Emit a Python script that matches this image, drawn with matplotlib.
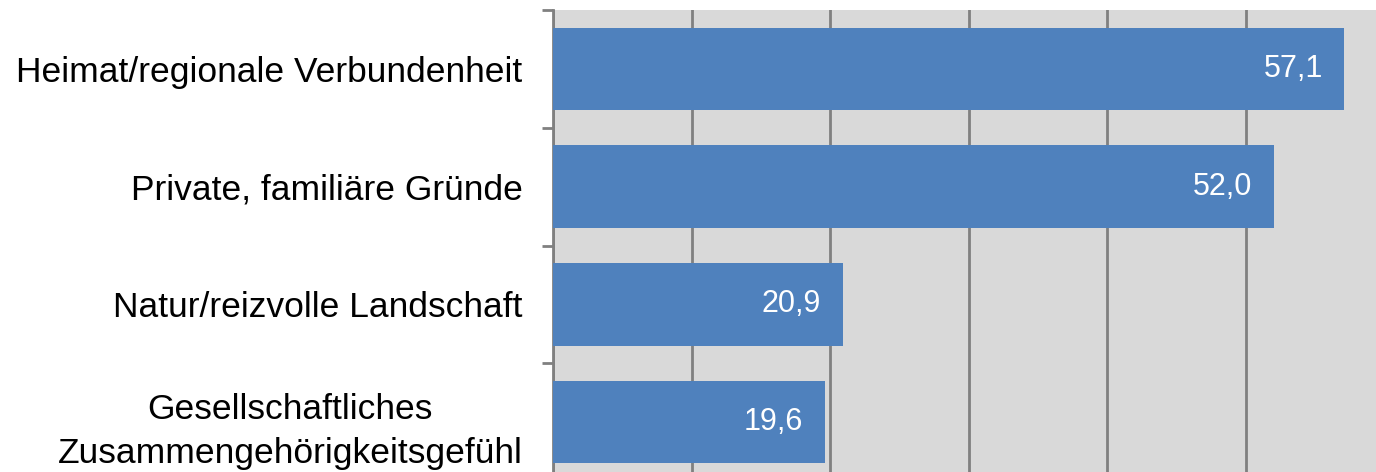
import matplotlib.pyplot as plt
import numpy as np

# Data
categories = [
    'Heimat/regionale Verbundenheit',
    'Private, familiäre Gründe',
    'Natur/reizvolle Landschaft',
    'Gesellschaftliches\nZusammengehörigkeitsgefühl',
]
values = [57.1, 52.0, 20.9, 19.6]

W, H = 1376, 472
fig = plt.figure(figsize=(W / 100, H / 100), dpi=100)
plt.rcParams['font.family'] = ['Liberation Sans', 'DejaVu Sans']

# axes extends past the right and bottom edge (the picture is a crop)
left, right, top, bottom = 553, 553 + 60 * 13.86, 10, 481
ax = fig.add_axes([left / W, (H - bottom) / H, (right - left) / W, (bottom - top) / H])
ax.set_facecolor('#D9D9D9')

y = np.arange(len(categories))
bars = ax.barh(y, values, height=0.7, color='#4F81BD', zorder=3)

ax.set_xlim(0, 60)
ax.set_ylim(len(categories) - 0.5, -0.5)

ax.set_xticks(np.arange(0, 61, 10))
ax.xaxis.grid(True, color='#808080', linewidth=2, zorder=1)
ax.tick_params(axis='x', length=0, labelbottom=False)

ax.set_yticks(y)
ax.set_yticklabels(categories, fontsize=25.5, multialignment='center', linespacing=1.45)
ax.tick_params(axis='y', which='major', length=0, pad=22)
ax.set_yticks(np.arange(-0.5, len(categories), 1), minor=True)
ax.tick_params(axis='y', which='minor', length=8, width=2, color='#808080', direction='out')

for s in ['top', 'right', 'bottom']:
    ax.spines[s].set_visible(False)
ax.spines['left'].set_color('#808080')
ax.spines['left'].set_linewidth(2)

for b, v in zip(bars, values):
    ax.text(v - 1.55, b.get_y() + b.get_height() / 2, f'{v:.1f}'.replace('.', ','),
            ha='right', va='center', color='white', fontsize=22, zorder=4)

fig.savefig('out.png', dpi=100)
